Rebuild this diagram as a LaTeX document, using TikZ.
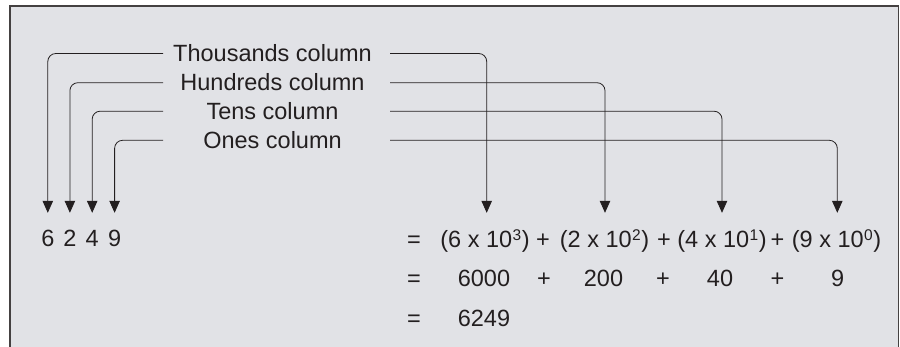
\documentclass[tikz,border=0pt]{standalone}
\usepackage{fontspec}
\setmainfont{Liberation Sans}
\usetikzlibrary{arrows.meta}
\definecolor{bgc}{RGB}{225,226,230}
\definecolor{ink}{RGB}{35,31,32}
\newcommand\supnum[1]{\kern0.5pt\raisebox{7.5pt}{\fontsize{15.5}{15.5}\selectfont #1}\kern0.5pt}
\begin{document}
\begin{tikzpicture}[x=1pt,y=-1pt,
  every node/.style={font=\fontsize{23.5}{28}\selectfont, text=ink, inner sep=0pt},
  lbl/.style={anchor=base},
  mrow/.style={anchor=base, text height=16.5pt, text depth=0pt},
  conn/.style={draw=ink, line width=0.8pt, rounded corners=8pt,
    -{Triangle[length=12pt,width=10.5pt]}},
  frameline/.style={draw=ink!85, line width=1.6pt}]
\useasboundingbox (0,0) rectangle (900,347);
\fill[bgc] (10,6) rectangle (899,347);
\draw[frameline] (10,347) -- (10,6) -- (898.5,6) -- (898.5,347);

% labels
\node[lbl] (lth) at (272.5,61.7) {Thousands column};
\node[lbl] (lhu) at (272.5,90.7) {Hundreds column};
\node[lbl] (lte) at (272.5,119.2) {Tens column};
\node[lbl] (lon) at (272.5,148.3) {Ones column};

% free ends of connectors
\coordinate (thA) at (163,53.5);  \coordinate (thB) at (390,53.5);
\coordinate (huA) at (163,82.7);  \coordinate (huB) at (390,82.7);
\coordinate (teA) at (163,111.2); \coordinate (teB) at (390,111.2);
\coordinate (onA) at (163,140.3); \coordinate (onB) at (390,140.3);

% digits
\node[mrow] (d6) at (47.8,247) {6};
\node[mrow] (d2) at (69.9,247) {2};
\node[mrow] (d4) at (92.2,247) {4};
\node[mrow] (d9) at (114.6,247) {9};

% row 1
\node[mrow] (e1) at (414,248) {=};
\node[mrow] (t1) at (485,248) {(6 x 10\supnum{3})};
\node[mrow] (p11) at (543,248) {+};
\node[mrow] (t2) at (604.5,248) {(2 x 10\supnum{2})};
\node[mrow] (p12) at (664,248) {+};
\node[mrow] (t3) at (722,248) {(4 x 10\supnum{1})};
\node[mrow] (p13) at (777.5,248) {+};
\node[mrow] (t4) at (836.5,248) {(9 x 10\supnum{0})};

% row 2
\node[mrow] (e2) at (414,287) {=};
\node[mrow] (v1) at (484,287) {6000};
\node[mrow] (p21) at (544,287) {+};
\node[mrow] (v2) at (603.5,287) {200};
\node[mrow] (p22) at (663,287) {+};
\node[mrow] (v3) at (720,287) {40};
\node[mrow] (p23) at (777.5,287) {+};
\node[mrow] (v4) at (837.6,287) {9};

% row 3
\node[mrow] (e3) at (414,327) {=};
\node[mrow] (tot) at (484,327) {6249};

% connectors
\draw[conn, shorten >=17.5pt] (thA) -| (d6.north);
\draw[conn, shorten >=17.5pt] (huA) -| (d2.north);
\draw[conn, shorten >=17.5pt] (teA) -| (d4.north);
\draw[conn, shorten >=17.5pt] (onA) -| (d9.north);
\draw[conn, shorten >=18.5pt] (thB) -| ([xshift=1.7pt]t1.north);
\draw[conn, shorten >=18.5pt] (huB) -| ([xshift=0.5pt]t2.north);
\draw[conn, shorten >=18.5pt] (teB) -| (t3.north);
\draw[conn, shorten >=18.5pt] (onB) -| ([xshift=0.8pt]t4.north);
\end{tikzpicture}
\end{document}
